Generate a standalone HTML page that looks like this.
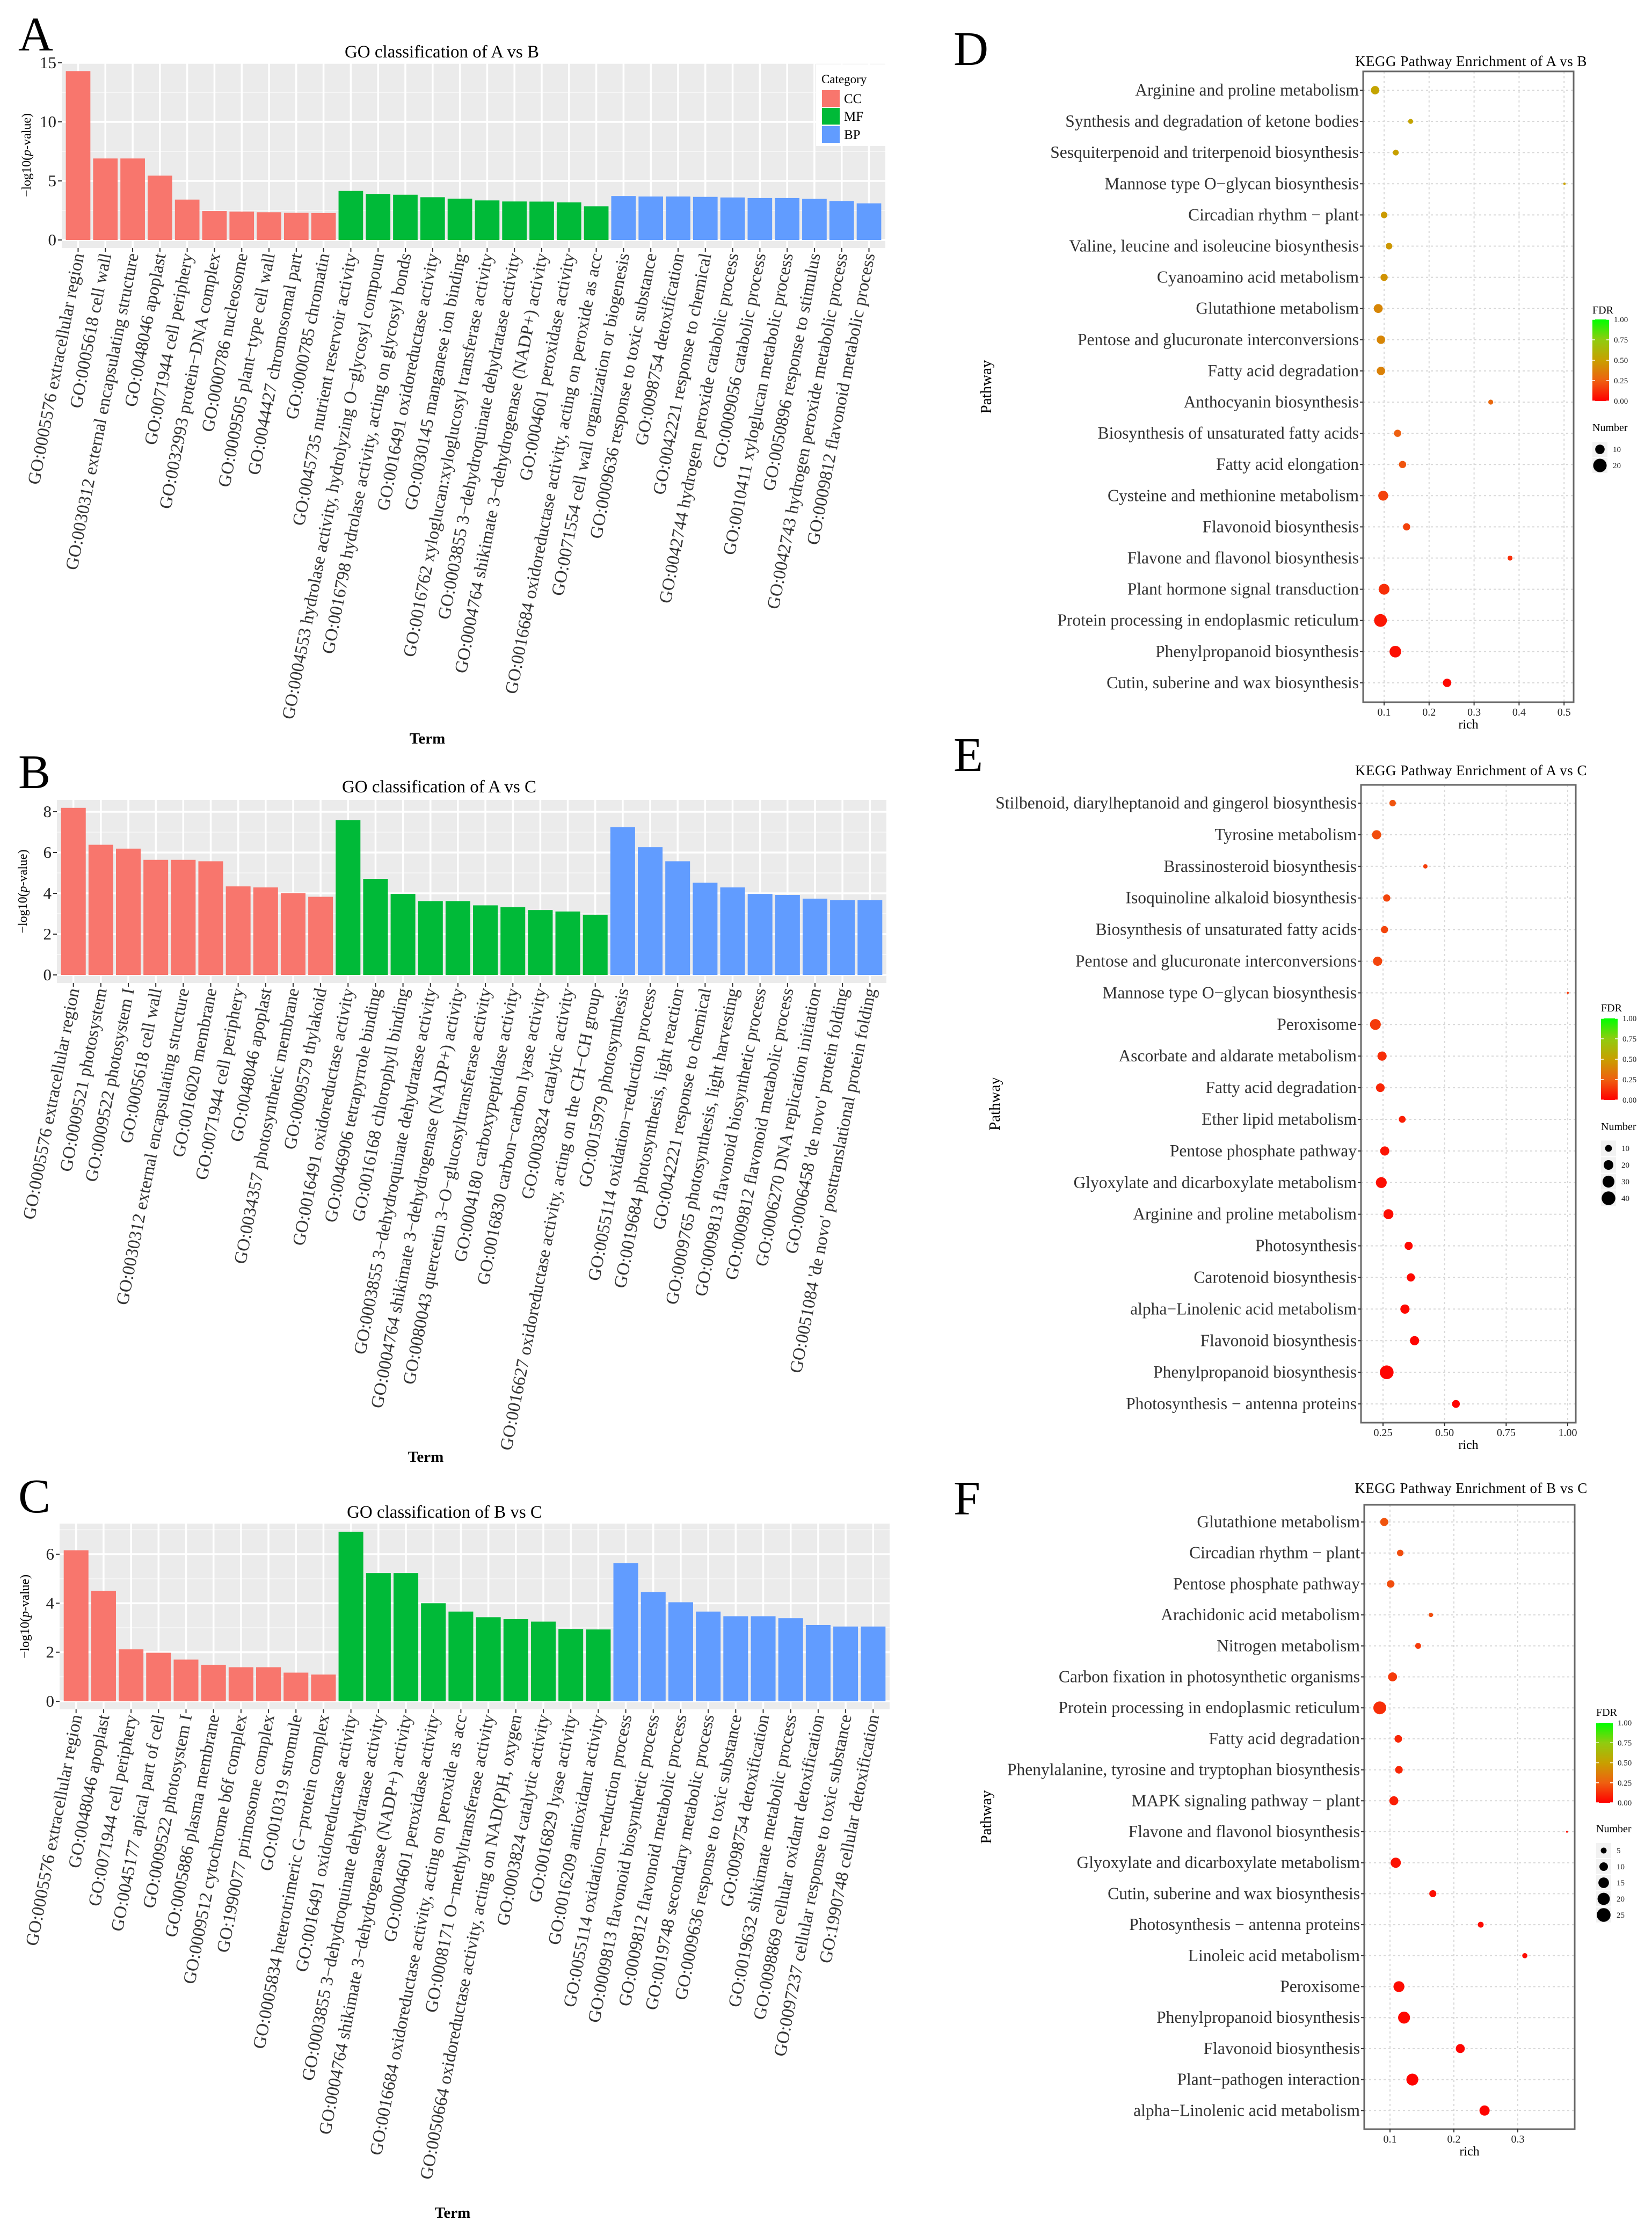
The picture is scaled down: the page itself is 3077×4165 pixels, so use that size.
<!DOCTYPE html>
<html><head><meta charset="utf-8">
<style>
html,body{margin:0;padding:0;background:#fff;}
svg{display:block;font-family:"Liberation Serif","DejaVu Serif",serif;}
</style></head>
<body>
<svg id="fig" xmlns="http://www.w3.org/2000/svg" width="3077" height="4165" viewBox="0 0 3077 4165">
<rect x="0" y="0" width="3077" height="4165" fill="#fff"/>
<defs>
<linearGradient id="fdrgrad" x1="0" y1="1" x2="0" y2="0">
<stop offset="0" stop-color="#ff0000"/><stop offset="0.25" stop-color="#ee6010"/><stop offset="0.5" stop-color="#c8a000"/><stop offset="0.75" stop-color="#90cc10"/><stop offset="1" stop-color="#00ff00"/>
</linearGradient>
</defs>
<g id="root"></g>
</svg>
<script>
// ---------- GO bar chart data ----------
const goCats = ["CC","CC","CC","CC","CC","CC","CC","CC","CC","CC","MF","MF","MF","MF","MF","MF","MF","MF","MF","MF","BP","BP","BP","BP","BP","BP","BP","BP","BP","BP"];
const goA_terms = ["GO:0005576 extracellular region","GO:0005618 cell wall","GO:0030312 external encapsulating structure","GO:0048046 apoplast","GO:0071944 cell periphery","GO:0032993 protein−DNA complex","GO:0000786 nucleosome","GO:0009505 plant−type cell wall","GO:0044427 chromosomal part","GO:0000785 chromatin",
"GO:0045735 nutrient reservoir activity","GO:0004553 hydrolase activity, hydrolyzing O−glycosyl compoun","GO:0016798 hydrolase activity, acting on glycosyl bonds","GO:0016491 oxidoreductase activity","GO:0030145 manganese ion binding","GO:0016762 xyloglucan:xyloglucosyl transferase activity","GO:0003855 3−dehydroquinate dehydratase activity","GO:0004764 shikimate 3−dehydrogenase (NADP+) activity","GO:0004601 peroxidase activity","GO:0016684 oxidoreductase activity, acting on peroxide as acc",
"GO:0071554 cell wall organization or biogenesis","GO:0009636 response to toxic substance","GO:0098754 detoxification","GO:0042221 response to chemical","GO:0042744 hydrogen peroxide catabolic process","GO:0009056 catabolic process","GO:0010411 xyloglucan metabolic process","GO:0050896 response to stimulus","GO:0042743 hydrogen peroxide metabolic process","GO:0009812 flavonoid metabolic process"];
const goA_values = [14.3,6.9,6.9,5.45,3.42,2.45,2.4,2.35,2.3,2.28, 4.15,3.9,3.83,3.62,3.5,3.35,3.26,3.25,3.18,2.85, 3.72,3.68,3.68,3.65,3.6,3.55,3.55,3.48,3.3,3.1];
const goA_ticks = [0,5,10,15];

const goB_terms = ["GO:0005576 extracellular region","GO:0009521 photosystem","GO:0009522 photosystem I","GO:0005618 cell wall","GO:0030312 external encapsulating structure","GO:0016020 membrane","GO:0071944 cell periphery","GO:0048046 apoplast","GO:0034357 photosynthetic membrane","GO:0009579 thylakoid",
"GO:0016491 oxidoreductase activity","GO:0046906 tetrapyrrole binding","GO:0016168 chlorophyll binding","GO:0003855 3−dehydroquinate dehydratase activity","GO:0004764 shikimate 3−dehydrogenase (NADP+) activity","GO:0080043 quercetin 3−O−glucosyltransferase activity","GO:0004180 carboxypeptidase activity","GO:0016830 carbon−carbon lyase activity","GO:0003824 catalytic activity","GO:0016627 oxidoreductase activity, acting on the CH−CH group",
"GO:0015979 photosynthesis","GO:0055114 oxidation−reduction process","GO:0019684 photosynthesis, light reaction","GO:0042221 response to chemical","GO:0009765 photosynthesis, light harvesting","GO:0009813 flavonoid biosynthetic process","GO:0009812 flavonoid metabolic process","GO:0006270 DNA replication initiation","GO:0006458 'de novo' protein folding","GO:0051084 'de novo' posttranslational protein folding"];
const goB_values = [8.19,6.38,6.19,5.64,5.64,5.57,4.34,4.29,4.01,3.83, 7.59,4.71,3.97,3.62,3.62,3.41,3.32,3.18,3.11,2.95, 7.24,6.26,5.57,4.52,4.29,3.97,3.92,3.74,3.67,3.67];
const goB_ticks = [0,2,4,6,8];

const goC_terms = ["GO:0005576 extracellular region","GO:0048046 apoplast","GO:0071944 cell periphery","GO:0045177 apical part of cell","GO:0009522 photosystem I","GO:0005886 plasma membrane","GO:0009512 cytochrome b6f complex","GO:1990077 primosome complex","GO:0010319 stromule","GO:0005834 heterotrimeric G−protein complex",
"GO:0016491 oxidoreductase activity","GO:0003855 3−dehydroquinate dehydratase activity","GO:0004764 shikimate 3−dehydrogenase (NADP+) activity","GO:0004601 peroxidase activity","GO:0016684 oxidoreductase activity, acting on peroxide as acc","GO:0008171 O−methyltransferase activity","GO:0050664 oxidoreductase activity, acting on NAD(P)H, oxygen","GO:0003824 catalytic activity","GO:0016829 lyase activity","GO:0016209 antioxidant activity",
"GO:0055114 oxidation−reduction process","GO:0009813 flavonoid biosynthetic process","GO:0009812 flavonoid metabolic process","GO:0019748 secondary metabolic process","GO:0009636 response to toxic substance","GO:0098754 detoxification","GO:0019632 shikimate metabolic process","GO:0098869 cellular oxidant detoxification","GO:0097237 cellular response to toxic substance","GO:1990748 cellular detoxification"];
const goC_values = [6.16,4.5,2.12,1.98,1.7,1.49,1.39,1.39,1.17,1.09, 6.91,5.23,5.23,4.0,3.66,3.43,3.35,3.25,2.95,2.93, 5.64,4.46,4.04,3.66,3.47,3.47,3.39,3.11,3.05,3.05];
const goC_ticks = [0,2,4,6];

// ---------- KEGG dot chart data ----------
const keggD_paths = ["Arginine and proline metabolism","Synthesis and degradation of ketone bodies","Sesquiterpenoid and triterpenoid biosynthesis","Mannose type O−glycan biosynthesis","Circadian rhythm − plant","Valine, leucine and isoleucine biosynthesis","Cyanoamino acid metabolism","Glutathione metabolism","Pentose and glucuronate interconversions","Fatty acid degradation","Anthocyanin biosynthesis","Biosynthesis of unsaturated fatty acids","Fatty acid elongation","Cysteine and methionine metabolism","Flavonoid biosynthesis","Flavone and flavonol biosynthesis","Plant hormone signal transduction","Protein processing in endoplasmic reticulum","Phenylpropanoid biosynthesis","Cutin, suberine and wax biosynthesis"];
const keggD_rich = [0.080,0.159,0.126,0.501,0.100,0.111,0.100,0.087,0.093,0.093,0.337,0.130,0.141,0.098,0.150,0.380,0.100,0.092,0.125,0.240];
const keggD_number = [8,3,4,1,5,5,6,9,8,8,3,6,6,11,6,3,13,18,15,8];
const keggD_fdr = [0.52,0.52,0.5,0.5,0.48,0.47,0.45,0.4,0.4,0.38,0.28,0.25,0.22,0.17,0.17,0.12,0.12,0.06,0.04,0.02];
const keggD_ticks = [0.1,0.2,0.3,0.4,0.5];
const keggD_tickLabels = ["0.1","0.2","0.3","0.4","0.5"];
const keggD_legendN = [10,20];

const keggE_paths = ["Stilbenoid, diarylheptanoid and gingerol biosynthesis","Tyrosine metabolism","Brassinosteroid biosynthesis","Isoquinoline alkaloid biosynthesis","Biosynthesis of unsaturated fatty acids","Pentose and glucuronate interconversions","Mannose type O−glycan biosynthesis","Peroxisome","Ascorbate and aldarate metabolism","Fatty acid degradation","Ether lipid metabolism","Pentose phosphate pathway","Glyoxylate and dicarboxylate metabolism","Arginine and proline metabolism","Photosynthesis","Carotenoid biosynthesis","alpha−Linolenic acid metabolism","Flavonoid biosynthesis","Phenylpropanoid biosynthesis","Photosynthesis − antenna proteins"];
const keggE_rich = [0.289,0.224,0.422,0.265,0.256,0.228,1.0,0.219,0.246,0.239,0.328,0.257,0.243,0.272,0.354,0.363,0.339,0.378,0.265,0.546];
const keggE_number = [9,18,4,11,11,18,1,25,18,16,10,18,25,21,14,14,18,18,40,13];
const keggE_fdr = [0.22,0.2,0.16,0.18,0.18,0.18,0.15,0.15,0.12,0.1,0.08,0.05,0.04,0.03,0.02,0.02,0.02,0.01,0.01,0.01];
const keggE_ticks = [0.25,0.5,0.75,1.0];
const keggE_tickLabels = ["0.25","0.50","0.75","1.00"];
const keggE_legendN = [10,20,30,40];

const keggF_paths = ["Glutathione metabolism","Circadian rhythm − plant","Pentose phosphate pathway","Arachidonic acid metabolism","Nitrogen metabolism","Carbon fixation in photosynthetic organisms","Protein processing in endoplasmic reticulum","Fatty acid degradation","Phenylalanine, tyrosine and tryptophan biosynthesis","MAPK signaling pathway − plant","Flavone and flavonol biosynthesis","Glyoxylate and dicarboxylate metabolism","Cutin, suberine and wax biosynthesis","Photosynthesis − antenna proteins","Linoleic acid metabolism","Peroxisome","Phenylpropanoid biosynthesis","Flavonoid biosynthesis","Plant−pathogen interaction","alpha−Linolenic acid metabolism"];
const keggF_rich = [0.091,0.116,0.101,0.164,0.144,0.104,0.084,0.113,0.114,0.106,0.377,0.109,0.167,0.242,0.311,0.114,0.122,0.210,0.135,0.248];
const keggF_number = [9,6,8,3,5,11,22,8,8,11,1,14,7,5,4,16,19,11,19,14];
const keggF_fdr = [0.22,0.2,0.2,0.2,0.15,0.15,0.12,0.1,0.1,0.08,0.05,0.05,0.04,0.03,0.03,0.03,0.02,0.01,0.01,0.01];
const keggF_ticks = [0.1,0.2,0.3];
const keggF_tickLabels = ["0.1","0.2","0.3"];
const keggF_legendN = [5,10,15,20,25];

const fdrTicks = [0,0.25,0.5,0.75,1];
const fdrTickLabels = ["0.00","0.25","0.50","0.75","1.00"];
const catNames = ["CC","MF","BP"];

// ---------- helpers ----------
const NS = "http://www.w3.org/2000/svg";
const root = document.getElementById('root');
function mk(tag, attrs, parent, text){
  const e = document.createElementNS(NS, tag);
  for (const k in attrs) e.setAttribute(k, attrs[k]);
  if (text !== undefined) e.textContent = text;
  (parent || root).appendChild(e);
  return e;
}
const catColor = {CC:"#F8766D", MF:"#00BA38", BP:"#619CFF"};
const fdrStops = [[0,[255,0,0]],[0.25,[238,96,16]],[0.5,[200,160,0]],[0.75,[144,204,16]],[1,[0,255,0]]];
function fdrColor(v){
  for (let i=0;i<fdrStops.length-1;i++){
    const a=fdrStops[i], b=fdrStops[i+1];
    if (v<=b[0]){ const t=(v-a[0])/(b[0]-a[0]); const c=a[1].map((x,j)=>Math.round(x+(b[1][j]-x)*t)); return `rgb(${c[0]},${c[1]},${c[2]})`; }
  }
  return "rgb(0,255,0)";
}

// ---------- GO bar chart ----------
function drawGO(o){
  const g = mk('g', {});
  
  
  const n = o.values.length;
  const unit = (o.right - o.left) / (n - 1 + 1.2);
  const xC = i => o.left + (i + 0.6) * unit;
  const yS = v => o.zeroY - v * o.pxPerUnit;
  const panel = mk('rect', {x:o.left, y:o.top, width:o.right-o.left, height:o.bottom-o.top, fill:'#EBEBEB'}, g);
  
  
  for (let i=0;i<o.ticks.length;i++){
    const mid = o.ticks[i] + (o.ticks[1]-o.ticks[0])/2;
    if (yS(mid) > o.top) mk('line', {x1:o.left, x2:o.right, y1:yS(mid), y2:yS(mid), stroke:'#f5f5f5', 'stroke-width':2}, g);
  }
  o.ticks.forEach(t => mk('line', {x1:o.left, x2:o.right, y1:yS(t), y2:yS(t), stroke:'#fff', 'stroke-width':3.5}, g));
  for (let i=0;i<n;i++) mk('line', {x1:xC(i), x2:xC(i), y1:o.top, y2:o.bottom, stroke:'#fff', 'stroke-width':3.5}, g);
  for (let i=0;i<n;i++){
    const b = mk('rect', {x:xC(i)-unit*0.45, y:yS(o.values[i]), width:unit*0.9, height:o.zeroY-yS(o.values[i]), fill:catColor[goCats[i]]}, g);
    
    
  }
  o.ticks.forEach(t => {
    mk('line', {x1:o.left-7, x2:o.left, y1:yS(t), y2:yS(t), stroke:'#333', 'stroke-width':2}, g);
    const tl = mk('text', {x:o.left-10, y:yS(t)+10, 'text-anchor':'end', 'font-size':31, fill:'#222'}, g, String(t));
    
    
  });
  for (let i=0;i<n;i++){
    mk('line', {x1:xC(i), x2:xC(i), y1:o.bottom, y2:o.bottom+7, stroke:'#333', 'stroke-width':2}, g);
    const ax = xC(i)+11, ay = o.bottom+12;
    const lbl = mk('text', {x:ax, y:ay, 'text-anchor':'end', 'font-size':33, fill:'#333', transform:`rotate(-79 ${ax} ${ay})`}, g, o.terms[i]);
    
    
  }
  const tt = mk('text', {x:o.titleX, y:o.titleY, 'text-anchor':'middle', 'font-size':33, fill:'#000'}, g, o.title);
  
  
  const yc = (o.top+o.bottom)/2;
  const yt = mk('text', {x:o.yTitleX, y:yc, 'text-anchor':'middle', 'font-size':24, fill:'#000', transform:`rotate(-90 ${o.yTitleX} ${yc})`}, g);
  
  
  mk('tspan', {}, yt, '−log10(');
  mk('tspan', {'font-style':'italic'}, yt, 'p');
  mk('tspan', {}, yt, '-value)');
  const xt = mk('text', {x:o.termX, y:o.termY, 'text-anchor':'middle', 'font-size':29, 'font-weight':'bold', fill:'#000'}, g, 'Term');
  
  
  const pl = mk('text', {x:o.letterX, y:o.letterY, 'font-size':90, fill:'#000'}, g, o.letter);
  
  
  return g;
}

drawGO({name:'go-chart-a-vs-b', terms:goA_terms, values:goA_values, ticks:goA_ticks, left:115, right:1649, top:116, bottom:462, zeroY:447, pxPerUnit:(447-117)/15, title:'GO classification of A vs B', titleX:823, titleY:107, yTitleX:57, termX:796, termY:1385, letter:'A', letterX:34, letterY:94});
drawGO({name:'go-chart-a-vs-c', terms:goB_terms, values:goB_values, ticks:goB_ticks, left:106, right:1651, top:1490, bottom:1831, zeroY:1816, pxPerUnit:(1816-1512)/8, title:'GO classification of A vs C', titleX:818, titleY:1476, yTitleX:50, termX:793, termY:2723, letter:'B', letterX:34, letterY:1468});
drawGO({name:'go-chart-b-vs-c', terms:goC_terms, values:goC_values, ticks:goC_ticks, left:111, right:1657, top:2838, bottom:3184, zeroY:3169, pxPerUnit:(3169-2895)/6, title:'GO classification of B vs C', titleX:828, titleY:2827, yTitleX:54, termX:843, termY:4131, letter:'C', letterX:34, letterY:2817});

(function(){
  const g = mk('g', {});
  
  
  mk('rect', {x:1520, y:120, width:131, height:152, fill:'#fff'}, g);
  mk('text', {x:1530, y:155, 'font-size':23, fill:'#000'}, g, 'Category');
  const ys=[183,216,250];
  catNames.forEach((c,i)=>{
    const e = mk('g', {}, g);
    
    
    mk('rect', {x:1531, y:ys[i]-15, width:33, height:31, fill:catColor[c]}, e);
    mk('text', {x:1572, y:ys[i]+9, 'font-size':25, fill:'#000'}, e, c);
  });
})();

// ---------- KEGG dot chart ----------
function drawKEGG(o){
  const g = mk('g', {});
  
  
  const xS = v => o.x0 + (v - o.v0) * o.pxPerUnit;
  const yS = i => o.row0 + i * o.rowStep;
  const nmin = Math.min(...o.number), nmax = Math.max(...o.number);
  const rS = n => Math.sqrt(o.rmin*o.rmin + (o.rmax*o.rmax - o.rmin*o.rmin) * Math.max(0,(n - nmin)) / (nmax - nmin));
  o.ticks.forEach(t => mk('line', {x1:xS(t), x2:xS(t), y1:o.top, y2:o.bottom, stroke:'#d8d8d8', 'stroke-width':2, 'stroke-dasharray':'4 5'}, g));
  o.paths.forEach((p,i) => mk('line', {x1:o.left, x2:o.right, y1:yS(i), y2:yS(i), stroke:'#d8d8d8', 'stroke-width':2, 'stroke-dasharray':'4 5'}, g));
  const box = mk('rect', {x:o.left, y:o.top, width:o.right-o.left, height:o.bottom-o.top, fill:'none', stroke:'#666', 'stroke-width':3}, g);
  
  
  o.paths.forEach((p,i) => {
    mk('line', {x1:o.left-6, x2:o.left, y1:yS(i), y2:yS(i), stroke:'#333', 'stroke-width':2}, g);
    const t = mk('text', {x:o.left-8, y:yS(i)+10, 'text-anchor':'end', 'font-size':31.5, fill:'#333'}, g, p);
    
    
  });
  o.paths.forEach((p,i) => {
    const c = mk('circle', {cx:xS(o.rich[i]), cy:yS(i), r:rS(o.number[i]), fill:fdrColor(o.fdr[i])}, g);
    
    
  });
  o.ticks.forEach((t,k) => {
    mk('line', {x1:xS(t), x2:xS(t), y1:o.bottom, y2:o.bottom+6, stroke:'#333', 'stroke-width':2}, g);
    const tl = mk('text', {x:xS(t), y:o.bottom+25, 'text-anchor':'middle', 'font-size':20, fill:'#222'}, g, o.tickLabels[k]);
    
    
  });
  const xt = mk('text', {x:(o.left+o.right)/2, y:o.bottom+49, 'text-anchor':'middle', 'font-size':24, fill:'#000'}, g, 'rich');
  
  
  const yc = (o.top+o.bottom)/2;
  const yt = mk('text', {x:o.pathX, y:yc, 'text-anchor':'middle', 'font-size':29, fill:'#000', transform:`rotate(-90 ${o.pathX} ${yc})`}, g, 'Pathway');
  
  
  const tt = mk('text', {x:o.titleX, y:o.titleY, 'text-anchor':'middle', 'font-size':27, fill:'#000', 'letter-spacing':'0.5'}, g, o.title);
  
  
  const pl = mk('text', {x:o.letterX, y:o.letterY, 'font-size':90, fill:'#000'}, g, o.letter);
  
  
  const lg = mk('g', {}, g);
  
  
  mk('text', {x:o.lgX, y:o.fdrY, 'font-size':20, fill:'#000'}, lg, 'FDR');
  mk('rect', {x:o.lgX, y:o.barTop, width:31, height:o.barBot-o.barTop, fill:'url(#fdrgrad)'}, lg);
  fdrTicks.forEach((f,k) => {
    const y = o.barBot - f*(o.barBot-o.barTop);
    mk('line', {x1:o.lgX, x2:o.lgX+5, y1:y, y2:y, stroke:'#fff', 'stroke-width':1.5}, lg);
    mk('line', {x1:o.lgX+26, x2:o.lgX+31, y1:y, y2:y, stroke:'#fff', 'stroke-width':1.5}, lg);
    mk('text', {x:o.lgX+40, y:y+5, 'font-size':15, fill:'#222'}, lg, fdrTickLabels[k]);
  });
  const ng = mk('g', {}, g);
  
  
  mk('text', {x:o.lgX, y:o.numY, 'font-size':20, fill:'#000'}, ng, 'Number');
  o.legendN.forEach((nv,k) => {
    const cy = o.numY + 34 + k*o.numStep;
    mk('rect', {x:o.lgX, y:cy-o.numStep/2+1, width:28, height:o.numStep-2, fill:'#f2f2f2'}, ng);
    mk('circle', {cx:o.lgX+14, cy:cy, r:rS(nv), fill:'#000'}, ng);
    mk('text', {x:o.lgX+38, y:cy+5, 'font-size':15, fill:'#222'}, ng, String(nv));
  });
}

drawKEGG({name:'kegg-chart-a-vs-b', paths:keggD_paths, rich:keggD_rich, number:keggD_number, fdr:keggD_fdr, ticks:keggD_ticks, tickLabels:keggD_tickLabels, legendN:keggD_legendN,
  left:2539, right:2931, top:133, bottom:1308, x0:2578, v0:0.1, pxPerUnit:838, row0:168, rowStep:58.1, rmin:2.3, rmax:11.9,
  pathX:1846, title:'KEGG Pathway Enrichment of A vs B', titleX:2740, titleY:123, letter:'D', letterX:1776, letterY:121,
  lgX:2966, fdrY:584, barTop:595, barBot:747, numY:803, numStep:30});
drawKEGG({name:'kegg-chart-a-vs-c', paths:keggE_paths, rich:keggE_rich, number:keggE_number, fdr:keggE_fdr, ticks:keggE_ticks, tickLabels:keggE_tickLabels, legendN:keggE_legendN,
  left:2535, right:2935, top:1462, bottom:2650, x0:2576, v0:0.25, pxPerUnit:458.7, row0:1496, rowStep:58.9, rmin:2, rmax:12.8,
  pathX:1862, title:'KEGG Pathway Enrichment of A vs C', titleX:2740, titleY:1444, letter:'E', letterX:1776, letterY:1436,
  lgX:2982, fdrY:1884, barTop:1897, barBot:2049, numY:2105, numStep:31});
drawKEGG({name:'kegg-chart-b-vs-c', paths:keggF_paths, rich:keggF_rich, number:keggF_number, fdr:keggF_fdr, ticks:keggF_ticks, tickLabels:keggF_tickLabels, legendN:keggF_legendN,
  left:2541, right:2933, top:2803, bottom:3966, x0:2589, v0:0.1, pxPerUnit:1190, row0:2835, rowStep:57.7, rmin:1.8, rmax:12,
  pathX:1846, title:'KEGG Pathway Enrichment of B vs C', titleX:2740, titleY:2781, letter:'F', letterX:1776, letterY:2821,
  lgX:2973, fdrY:3196, barTop:3209, barBot:3358, numY:3413, numStep:30});
</script>
</body></html>
